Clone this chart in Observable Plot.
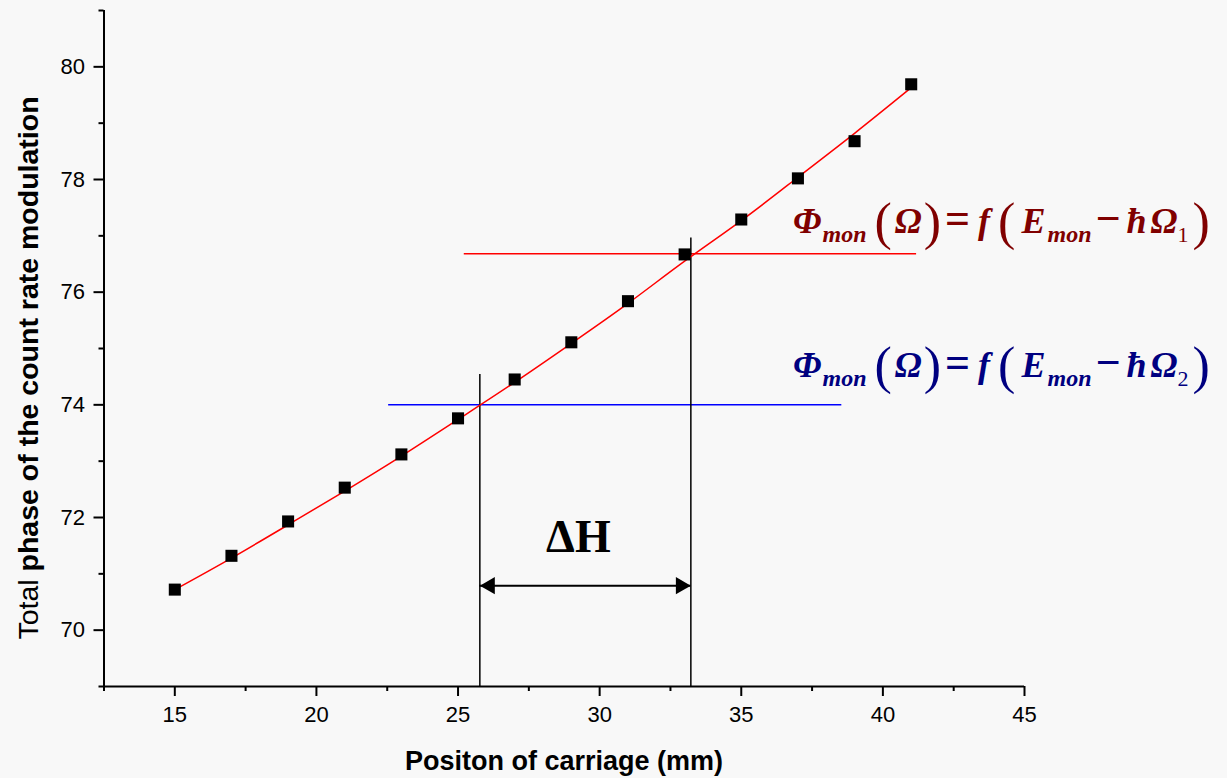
<!DOCTYPE html>
<html>
<head>
<meta charset="utf-8">
<script src="https://cdn.jsdelivr.net/npm/d3@7"></script>
<script src="https://cdn.jsdelivr.net/npm/@observablehq/plot@0.6"></script>
<style>
  html, body { margin: 0; padding: 0; background: #f8f8f8; }
</style>
</head>
<body>
<div id="chart"></div>
<script>
// ---- data ----
const positions = [15, 17, 19, 21, 23, 25, 27, 29, 31, 33, 35, 37, 39, 41];
const phases = [70.72, 71.32, 71.93, 72.53, 73.12, 73.76, 74.45, 75.11, 75.84, 76.67, 77.29, 78.02, 78.68, 79.69];
const fitX = [15, 17, 19, 21, 23, 25, 27, 29, 31, 33, 35, 37, 39, 41];
const fitY = [70.72, 71.28, 71.87, 72.47, 73.09, 73.74, 74.40, 75.09, 75.80, 76.55, 77.27, 78.04, 78.82, 79.63];
const xTicks = [15, 20, 25, 30, 35, 40, 45];
const xMinor = [12.5, 17.5, 22.5, 27.5, 32.5, 37.5, 42.5];
const yTicks = [70, 72, 74, 76, 78, 80];
const yMinor = [69, 71, 73, 75, 77, 79, 81];
const levelY = [76.68, 74.0];
const levelX1 = [25.22, 22.55];
const levelX2 = [41.19, 38.55];
const levelColor = ["#ff0000", "#0000ff"];
const markerX = [25.77, 33.22];
const markerTop = [74.54, 76.96];
const arrowY = [70.79];
const deltaX = [29.25];
const deltaY = [71.38];
const eqX = [36.83, 36.83];
const eqY = [77.05, 74.50];
const eqColor = ["#800000", "#000080"];
const eqIndex = ["1", "2"];
const xLabel = "Positon of carriage (mm)";
const yLabelRegular = "Total ";
const yLabelBold = "phase of the count rate modulation";

const levels = levelY.map((y, i) => ({y, x1: levelX1[i], x2: levelX2[i], c: levelColor[i]}));
const markers = markerX.map((x, i) => ({x, top: markerTop[i]}));
const eqs = eqX.map((x, i) => ({x, y: eqY[i], c: eqColor[i], k: eqIndex[i]}));

const chart = Plot.plot({
  width: 1227,
  height: 778,
  marginLeft: 103.5,
  marginRight: 203,
  marginTop: 10,
  marginBottom: 92,
  x: {domain: [12.5, 45]},
  y: {domain: [69, 81]},
  style: {background: "#f8f8f8", fontFamily: "Liberation Sans, Arial, sans-serif", fontSize: "22px", color: "black"},
  marks: [
    Plot.axisX(xTicks, {tickSize: 10, tickPadding: 10, strokeWidth: 2, label: null, fontSize: 22, tickFormat: d => String(d)}),
    Plot.axisX(xMinor, {tickSize: 5, strokeWidth: 2, label: null, tickFormat: () => ""}),
    Plot.axisY(yTicks, {tickSize: 10, tickPadding: 9, strokeWidth: 2, label: null, fontSize: 22, tickFormat: d => String(d)}),
    Plot.axisY(yMinor, {tickSize: 5, strokeWidth: 2, label: null, tickFormat: () => ""}),
    Plot.ruleX([12.5], {y1: 69, y2: 81, stroke: "black", strokeWidth: 2}),
    Plot.ruleY([69], {x1: 12.5, x2: 45, stroke: "black", strokeWidth: 2}),
    Plot.ruleY(levels, {y: "y", x1: "x1", x2: "x2", stroke: "c", strokeWidth: 1.5}),
    Plot.ruleX(markers, {x: "x", y1: 69, y2: "top", stroke: "black", strokeWidth: 1.5}),
    Plot.ruleY(arrowY, {x1: markerX[0], x2: markerX[1], stroke: "black", strokeWidth: 2}),
    Plot.dot([markerX[0]], {x: d => d, y: arrowY[0], symbol: "triangle", r: 6.4, rotate: -90, dx: 10, fill: "black", stroke: "none"}),
    Plot.dot([markerX[1]], {x: d => d, y: arrowY[0], symbol: "triangle", r: 6.4, rotate: 90, dx: -10, fill: "black", stroke: "none"}),
    Plot.line(fitX.map((x, i) => ({x, y: fitY[i]})), {x: "x", y: "y", curve: "natural", stroke: "#ff0000", strokeWidth: 1.5}),
    Plot.dot(positions.map((x, i) => ({x, y: phases[i]})), {x: "x", y: "y", symbol: "square", r: 6.8, fill: "black", stroke: "none"}),
    Plot.text(deltaX, {x: d => d, y: deltaY[0], text: () => "ΔH", fontFamily: "Liberation Serif, serif", fontWeight: "bold", fontSize: 46, lineAnchor: "bottom", textAnchor: "middle", fill: "black"}),
    Plot.text(eqs, {x: "x", y: "y", text: "k", fill: "c", textAnchor: "start", lineAnchor: "bottom", className: "eqn", fontFamily: "Liberation Serif, serif"})
  ]
});

document.getElementById("chart").appendChild(chart);

// replace equation placeholders with formatted math
const svg = d3.select(chart);
svg.selectAll("g.eqn text").each(function() {
  const t = d3.select(this);
  const k = t.text();
  t.text("");
  const segs = [
    {s: "Φ", size: 36, b: 1, i: 1, sh: 0, dx: 0},
    {s: "mon", size: 24, b: 1, i: 1, sh: 9, dx: 1},
    {s: "(", size: 52, b: 0, i: 0, sh: 6, dx: 8},
    {s: "Ω", size: 36, b: 1, i: 1, sh: 0, dx: 3},
    {s: ")", size: 52, b: 0, i: 0, sh: 6, dx: 2},
    {s: "=", size: 44, b: 1, i: 0, sh: 0, dx: 4},
    {s: "f", size: 36, b: 1, i: 1, sh: 0, dx: 8},
    {s: "(", size: 52, b: 0, i: 0, sh: 6, dx: 8},
    {s: "E", size: 36, b: 1, i: 1, sh: 0, dx: 6},
    {s: "mon", size: 24, b: 1, i: 1, sh: 9, dx: 2},
    {s: "−", size: 44, b: 1, i: 0, sh: 0, dx: 4},
    {s: "ħ", size: 36, b: 1, i: 1, sh: 0, dx: 6},
    {s: "Ω", size: 36, b: 1, i: 1, sh: 0, dx: 4},
    {s: k, size: 22, b: 0, i: 0, sh: 9, dx: 0},
    {s: ")", size: 52, b: 0, i: 0, sh: 6, dx: 4}
  ];
  let prev = 0;
  segs.forEach(g => {
    t.append("tspan")
      .attr("dy", g.sh - prev)
      .attr("dx", g.dx)
      .attr("font-size", g.size)
      .attr("font-weight", g.b ? "bold" : "normal")
      .attr("font-style", g.i ? "italic" : "normal")
      .text(g.s);
    prev = g.sh;
  });
});

// axis titles
const yl = svg.append("text")
  .attr("transform", "translate(38,368) rotate(-90)")
  .attr("text-anchor", "middle")
  .attr("font-family", "Liberation Sans, Arial, sans-serif")
  .attr("font-size", 28.5)
  .attr("fill", "black");
yl.append("tspan").text(yLabelRegular);
yl.append("tspan").attr("font-weight", "bold").text(yLabelBold);

svg.append("text")
  .attr("x", 564).attr("y", 770)
  .attr("text-anchor", "middle")
  .attr("font-family", "Liberation Sans, Arial, sans-serif")
  .attr("font-size", 27)
  .attr("font-weight", "bold")
  .attr("fill", "black")
  .text(xLabel);
</script>
</body>
</html>
